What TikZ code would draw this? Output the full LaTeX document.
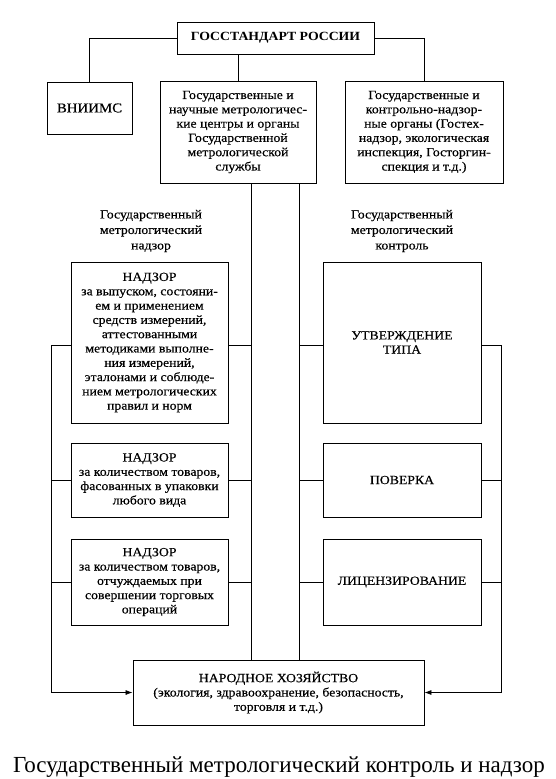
\documentclass[tikz,border=0pt]{standalone}
\usepackage{fontspec}
\setmainfont{Liberation Serif}
\newfontfamily\bookfont[FakeStretch=1.1,FakeBold=0.4]{Liberation Serif}
\newfontfamily\bookbold[FakeStretch=1.1]{Liberation Serif Bold}
\usetikzlibrary{arrows.meta,calc}
\begin{document}
\begin{tikzpicture}[x=1pt,y=-1pt,
  box/.style={draw, line width=0.9pt, inner sep=0pt, align=center, font=\bookfont\fontsize{12.5}{14.3}\selectfont},
  sz/.style 2 args={minimum width=#1pt, minimum height=#2pt},
  lab/.style={align=center, inner sep=0pt, font=\bookfont\fontsize{12.5}{15.5}\selectfont},
  wire/.style={line width=0.7pt},
  arr/.style={wire, -{Latex[length=7pt,width=5pt]}}]
\useasboundingbox (0,0) rectangle (556,779);
\node[box,sz={197}{32}, font=\bookbold\fontsize{12.5}{14.3}\selectfont] (gos) at (275.5,38) {ГОССТАНДАРТ РОССИИ};
\node[box,sz={85}{52}, font=\bookfont\fontsize{13.5}{15}\selectfont] (vni) at (89.5,108) {ВНИИМС};
\node[box,sz={156}{102}] (mid) at (238,132) {Государственные и\\научные метрологичес-\\кие центры и органы\\Государственной\\метрологической\\службы};
\node[box,sz={158}{102}] (rgt) at (424,132) {Государственные и\\контрольно-надзор-\\ные органы (Гостех-\\надзор, экологическая\\инспекция, Госторгин-\\спекция и т.д.)};
\node[lab] (labL) at (151,231) {Государственный\\метрологический\\надзор};
\node[lab] (labR) at (402,231) {Государственный\\метрологический\\контроль};
\node[box,sz={157}{161}] (n1) at (149.5,342.5) {НАДЗОР\\за выпуском, состояни-\\ем и применением\\средств измерений,\\аттестованными\\методиками выполне-\\ния измерений,\\эталонами и соблюде-\\нием метрологических\\правил и норм};
\node[box,sz={158}{161}] (ut) at (402,342.5) {УТВЕРЖДЕНИЕ\\ТИПА};
\node[box,sz={157}{74}] (n2) at (149.5,480) {НАДЗОР\\за количеством товаров,\\фасованных в упаковки\\любого вида};
\node[box,sz={158}{74}] (pov) at (402,480) {ПОВЕРКА};
\node[box,sz={157}{86}] (n3) at (149.5,582) {НАДЗОР\\за количеством товаров,\\отчуждаемых при\\совершении торговых\\операций};
\node[box,sz={158}{86}] (lic) at (402,582) {ЛИЦЕНЗИРОВАНИЕ};
\node[box,sz={291}{65}] (nx) at (278.5,692.5) {НАРОДНОЕ ХОЗЯЙСТВО\\(экология, здравоохранение, безопасность,\\торговля и т.д.)};
\node[font=\fontsize{23}{27}\selectfont, inner sep=0pt] (cap) at (279,767) {Государственный метрологический контроль и надзор};
\coordinate (v1) at (251,183);
\coordinate (v2) at (299,183);
\coordinate (L) at (51,345);
\coordinate (R) at (501,345);
\draw[wire] (gos.west) -| (vni.north);
\draw[wire] (gos.east) -| (rgt.north);
\draw[wire] (mid.north) -- (mid.north |- gos.south);
\draw[wire] (v1) -- (v1 |- nx.north);
\draw[wire] (v2) -- (v2 |- nx.north);
\draw[arr] (n1.west |- L) -- (L) |- (nx.west);
\draw[wire] (n1.east |- L) -- (v1 |- L);
\draw[wire] (n2.west) -- (n2.west -| L);
\draw[wire] (n2.east) -- (n2.east -| v1);
\draw[wire] (n3.west) -- (n3.west -| L);
\draw[wire] (n3.east) -- (n3.east -| v1);
\draw[arr] (ut.east |- R) -- (R) |- (nx.east);
\draw[wire] (ut.west |- R) -- (v2 |- R);
\draw[wire] (pov.west) -- (pov.west -| v2);
\draw[wire] (pov.east) -- (pov.east -| R);
\draw[wire] (lic.west) -- (lic.west -| v2);
\draw[wire] (lic.east) -- (lic.east -| R);
\end{tikzpicture}
\end{document}
